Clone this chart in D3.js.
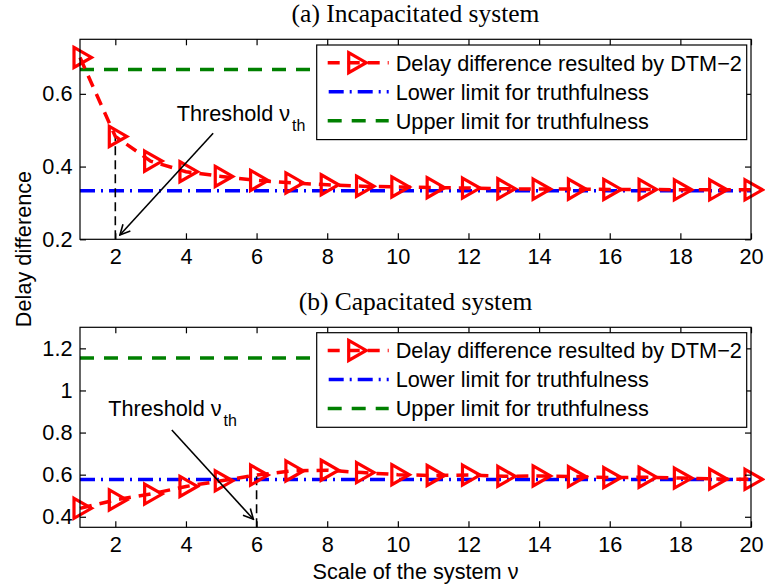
<!DOCTYPE html>
<html>
<head>
<meta charset="utf-8">
<script src="https://cdn.jsdelivr.net/npm/d3@7"></script>
<style>
  html, body { margin: 0; padding: 0; background: #fff; }
  svg { display: block; }
</style>
</head>
<body>
<svg id="chart" width="765" height="587"></svg>
<script>
// ---------- data ----------
const scaleValues = [1, 2, 3, 4, 5, 6, 7, 8, 9, 10, 11, 12, 13, 14, 15, 16, 17, 18, 19, 20];
const delayIncapacitated = [0.700, 0.483, 0.415, 0.386, 0.373, 0.362, 0.355, 0.350, 0.346, 0.344,
                            0.342, 0.341, 0.339, 0.338, 0.338, 0.337, 0.337, 0.336, 0.336, 0.336];
const delayCapacitated = [0.440, 0.480, 0.508, 0.544, 0.571, 0.598, 0.618, 0.621, 0.610, 0.600,
                          0.596, 0.598, 0.592, 0.594, 0.591, 0.586, 0.588, 0.584, 0.579, 0.578];
const lowerLimitA = 0.3333, upperLimitA = 0.6667;
const lowerLimitB = 0.5774, upperLimitB = 1.1547;
const thresholdA = 2, thresholdB = 6;
const xTicks = [2, 4, 6, 8, 10, 12, 14, 16, 18, 20];
const yTicksA = [0.2, 0.4, 0.6];
const yTicksB = [0.4, 0.6, 0.8, 1.0, 1.2];
const legendLabels = ["Delay difference resulted by DTM\u22122", "Lower limit for truthfulness", "Upper limit for truthfulness"];
const titles = ["(a) Incapacitated system", "(b) Capacitated system"];

// ---------- layout ----------
const svg = d3.select("#chart");
const SANS = "'Liberation Sans', Arial, Helvetica, sans-serif";
const SERIF = "'Liberation Serif', 'Times New Roman', serif";
const FS = 21.7;
const left = 80, right = 751;
const x = d3.scaleLinear().domain([1, 20]).range([left, right]);

const panels = [
  { top: 39.3, bottom: 239.3, domain: [0.2, 0.75], ticks: yTicksA, fmt: d => d3.format(".1f")(d),
    data: delayIncapacitated, lower: lowerLimitA, upper: upperLimitA, thr: thresholdA,
    title: titles[0], titleY: 22,
    arrow: { x1: 4.77, y1: 0.4915, x2: 2.13, y2: 0.212 }, label: { x: 3.74, y: 0.524 },
    legendTop: 45 },
  { top: 327.3, bottom: 527.3, domain: [0.35, 1.3], ticks: yTicksB, fmt: d => (d === 1 ? "1" : d3.format(".1f")(d)),
    data: delayCapacitated, lower: lowerLimitB, upper: upperLimitB, thr: thresholdB,
    title: titles[1], titleY: 310,
    arrow: { x1: 3.6, y1: 0.812, x2: 5.91, y2: 0.388 }, label: { x: 1.8, y: 0.879 },
    legendTop: 332.7 }
];

const RED = "#ff0000", BLUE = "#0000ff", GREEN = "#008000";
const LW = 3.5;
const redDash = "12,8", greenDash = "14,10", blueDash = "15,6,2,6";

const defs = svg.append("defs");
defs.append("marker").attr("id", "arrowhead")
  .attr("viewBox", "0 0 12 12").attr("refX", 11).attr("refY", 6)
  .attr("markerWidth", 12).attr("markerHeight", 12).attr("markerUnits", "userSpaceOnUse")
  .attr("orient", "auto")
  .append("path").attr("d", "M1,1 L11,6 L1,11").attr("fill", "none")
  .attr("stroke", "#000").attr("stroke-width", 1.6);

const triPath = "M-6,-10 L11.5,0 L-6,10 Z";

panels.forEach(p => {
  const y = d3.scaleLinear().domain(p.domain).range([p.bottom, p.top]);
  const g = svg.append("g");

  // title
  svg.append("text").attr("x", 415.5).attr("y", p.titleY)
    .attr("text-anchor", "middle").attr("font-family", SERIF).attr("font-size", 25.5)
    .attr("fill", "#000").text(p.title);

  // limit lines
  g.append("line").attr("x1", x(1)).attr("x2", x(20))
    .attr("y1", y(p.upper)).attr("y2", y(p.upper))
    .attr("stroke", GREEN).attr("stroke-width", LW).attr("stroke-dasharray", greenDash);
  g.append("line").attr("x1", x(1)).attr("x2", x(20))
    .attr("y1", y(p.lower)).attr("y2", y(p.lower))
    .attr("stroke", BLUE).attr("stroke-width", LW).attr("stroke-dasharray", blueDash);

  // threshold vertical dashed line
  const thrIdx = scaleValues.indexOf(p.thr);
  g.append("line").attr("x1", x(p.thr)).attr("x2", x(p.thr))
    .attr("y1", p.bottom).attr("y2", y(p.data[thrIdx]))
    .attr("stroke", "#000").attr("stroke-width", 1.6).attr("stroke-dasharray", "9,5");

  // data line
  const line = d3.line().x((d, i) => x(scaleValues[i])).y(d => y(d));
  g.append("path").datum(p.data).attr("d", line).attr("fill", "none")
    .attr("stroke", RED).attr("stroke-width", LW).attr("stroke-dasharray", redDash);

  // markers
  g.selectAll("path.mk").data(p.data).enter().append("path").attr("class", "mk")
    .attr("d", triPath)
    .attr("transform", (d, i) => `translate(${x(scaleValues[i])},${y(d)})`)
    .attr("fill", "none").attr("stroke", RED).attr("stroke-width", 3.2);

  // axes box
  g.append("rect").attr("x", left).attr("y", p.top).attr("width", right - left).attr("height", p.bottom - p.top)
    .attr("fill", "none").attr("stroke", "#000").attr("stroke-width", 1.2);

  // x ticks (bottom and top, inward)
  const axB = d3.axisBottom(x).tickValues(xTicks).tickSize(-6).tickPadding(9.5).tickFormat(d3.format("d"));
  const gxb = g.append("g").attr("transform", `translate(0,${p.bottom})`).call(axB);
  const axT = d3.axisTop(x).tickValues(xTicks).tickSize(-6).tickFormat("");
  const gxt = g.append("g").attr("transform", `translate(0,${p.top})`).call(axT);
  // y ticks (left and right, inward)
  const axL = d3.axisLeft(y).tickValues(p.ticks).tickSize(-6).tickPadding(7.5).tickFormat(p.fmt);
  const gyl = g.append("g").attr("transform", `translate(${left},0)`).call(axL);
  const axR = d3.axisRight(y).tickValues(p.ticks).tickSize(-6).tickFormat("");
  const gyr = g.append("g").attr("transform", `translate(${right},0)`).call(axR);
  [gxb, gxt, gyl, gyr].forEach(a => {
    a.select(".domain").remove();
    a.selectAll(".tick line").attr("stroke", "#000").attr("stroke-width", 1.2);
    a.selectAll("text").attr("font-family", SANS).attr("font-size", FS).attr("fill", "#000");
  });

  // annotation arrow + label
  g.append("line").attr("x1", x(p.arrow.x1)).attr("y1", y(p.arrow.y1))
    .attr("x2", x(p.arrow.x2)).attr("y2", y(p.arrow.y2))
    .attr("stroke", "#000").attr("stroke-width", 1.6).attr("marker-end", "url(#arrowhead)");
  const t = g.append("text").attr("x", x(p.label.x)).attr("y", y(p.label.y))
    .attr("font-family", SANS).attr("font-size", FS).attr("fill", "#000");
  t.append("tspan").text("Threshold \u03bd");
  t.append("tspan").attr("dy", 10).attr("font-size", 16).attr("dx", 2).text("th");

  // legend
  const lg = g.append("g").attr("transform", `translate(316.7,${p.legendTop})`);
  lg.append("rect").attr("x", 0).attr("y", 0).attr("width", 430).attr("height", 94.6)
    .attr("fill", "#fff").attr("stroke", "#000").attr("stroke-width", 1.2);
  const rows = [17.7, 46.7, 75.7];
  const styles = [
    { c: RED, dash: redDash, marker: true, off: 0 },
    { c: BLUE, dash: blueDash, marker: false, off: -1 },
    { c: GREEN, dash: greenDash, marker: false, off: 0 }
  ];
  styles.forEach((s, i) => {
    lg.append("line").attr("x1", 11).attr("x2", 72).attr("y1", rows[i]).attr("y2", rows[i])
      .attr("stroke", s.c).attr("stroke-width", LW).attr("stroke-dasharray", s.dash)
      .attr("stroke-dashoffset", s.off);
    if (s.marker) {
      lg.append("path").attr("d", triPath).attr("transform", `translate(38,${rows[i]})`)
        .attr("fill", "none").attr("stroke", s.c).attr("stroke-width", 3.2);
    }
    lg.append("text").attr("x", 79).attr("y", rows[i] + 8)
      .attr("font-family", SANS).attr("font-size", FS).attr("fill", "#000").text(legendLabels[i]);
  });
});

// axis labels
svg.append("text").attr("transform", "translate(31,249) rotate(-90)")
  .attr("text-anchor", "middle").attr("font-family", SANS).attr("font-size", FS).attr("fill", "#000")
  .text("Delay difference");
svg.append("text").attr("x", 415.5).attr("y", 579)
  .attr("text-anchor", "middle").attr("font-family", SANS).attr("font-size", FS).attr("fill", "#000")
  .text("Scale of the system \u03bd");
</script>
</body>
</html>
